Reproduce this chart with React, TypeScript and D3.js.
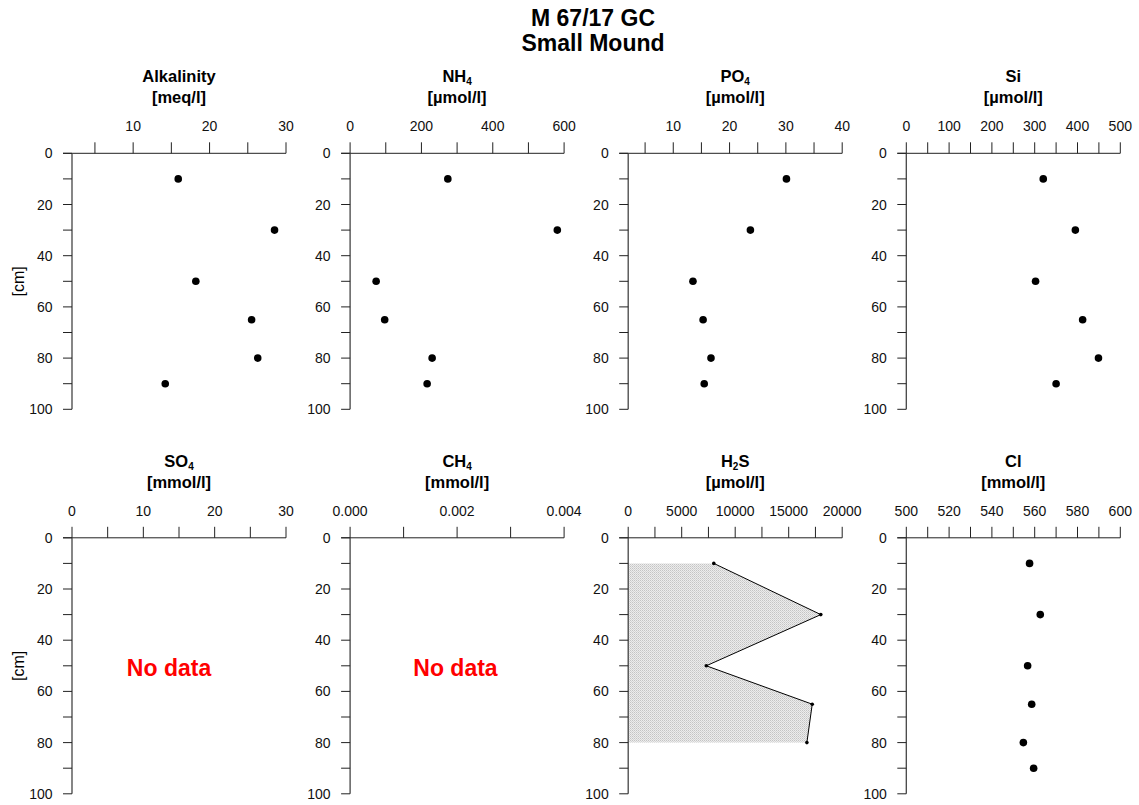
import React from "react";
import * as d3 from "d3";

const depths = [10, 30, 50, 65, 80, 90];
const alkalinity = [15.9, 28.5, 18.2, 25.5, 26.3, 14.2];
const nh4 = [274, 581, 73, 97, 230, 216];
const po4 = [30.1, 23.7, 13.5, 15.3, 16.7, 15.5];
const si = [320, 395, 302, 412, 449, 350];
const h2sDepths = [10, 30, 50, 65, 80];
const h2s = [8000, 18000, 7300, 17200, 16700];
const cl = [557.6, 562.6, 556.7, 558.6, 554.7, 559.5];

const depthTicks = [0, 10, 20, 30, 40, 50, 60, 70, 80, 90, 100];
const depthLabels = [0, 20, 40, 60, 80, 100];

type Panel = {
  name: string;
  sub?: string;
  rest?: string;
  unit: string;
  domain: [number, number];
  ticks: number[];
  labels: number[];
  fmt: (v: number) => string;
  values?: number[];
  kind: "dots" | "area" | "none";
};

const panels: Panel[] = [
  { name: "Alkalinity", unit: "[meq/l]", domain: [2, 30], ticks: [5, 10, 15, 20, 25, 30], labels: [10, 20, 30], fmt: String, values: alkalinity, kind: "dots" },
  { name: "NH", sub: "4", unit: "[µmol/l]", domain: [0, 600], ticks: [0, 100, 200, 300, 400, 500, 600], labels: [0, 200, 400, 600], fmt: String, values: nh4, kind: "dots" },
  { name: "PO", sub: "4", unit: "[µmol/l]", domain: [2, 40], ticks: [5, 10, 15, 20, 25, 30, 35, 40], labels: [10, 20, 30, 40], fmt: String, values: po4, kind: "dots" },
  { name: "Si", unit: "[µmol/l]", domain: [0, 500], ticks: [0, 50, 100, 150, 200, 250, 300, 350, 400, 450, 500], labels: [0, 100, 200, 300, 400, 500], fmt: String, values: si, kind: "dots" },
  { name: "SO", sub: "4", unit: "[mmol/l]", domain: [0, 30], ticks: [0, 5, 10, 15, 20, 25, 30], labels: [0, 10, 20, 30], fmt: String, kind: "none" },
  { name: "CH", sub: "4", unit: "[mmol/l]", domain: [0, 0.004], ticks: [0, 0.001, 0.002, 0.003, 0.004], labels: [0, 0.002, 0.004], fmt: (v) => v.toFixed(3), kind: "none" },
  { name: "H", sub: "2", rest: "S", unit: "[µmol/l]", domain: [0, 20000], ticks: [0, 2500, 5000, 7500, 10000, 12500, 15000, 17500, 20000], labels: [0, 5000, 10000, 15000, 20000], fmt: String, values: h2s, kind: "area" },
  { name: "Cl", unit: "[mmol/l]", domain: [500, 600], ticks: [500, 510, 520, 530, 540, 550, 560, 570, 580, 590, 600], labels: [500, 520, 540, 560, 580, 600], fmt: String, values: cl, kind: "dots" },
];

const noDataX = [0, 0, 0, 0, 13.6, 0.00197, 0, 0];

const FONT = "Arial, 'Liberation Sans', sans-serif";

function PanelView({ p, idx }: { p: Panel; idx: number }) {
  const col = idx % 4;
  const row = Math.floor(idx / 4);
  const left = 72 + col * 278.1;
  const top = 153.3 + row * 384.5;
  const w = 214;
  const h = 256;
  const x = d3.scaleLinear().domain(p.domain).range([left, left + w]);
  const y = d3.scaleLinear().domain([0, 100]).range([top, top + h]);
  const cx = left + w / 2;
  const axisColor = "#222";

  let marks: React.ReactNode = null;
  if (p.kind === "dots" && p.values) {
    marks = p.values.map((v, i) => (
      <circle key={i} cx={x(v)} cy={y(depths[i])} r={3.8} fill="#000" />
    ));
  } else if (p.kind === "area" && p.values) {
    const pts = p.values.map((v, i) => [v, h2sDepths[i]] as [number, number]);
    const area = d3
      .area<[number, number]>()
      .x0(() => x(0))
      .x1((d) => x(d[0]))
      .y((d) => y(d[1]));
    const line = d3
      .line<[number, number]>()
      .x((d) => x(d[0]))
      .y((d) => y(d[1]));
    marks = (
      <g>
        <path d={area(pts) || ""} fill="url(#stipple)" stroke="none" />
        <path d={line(pts) || ""} fill="none" stroke="#000" strokeWidth={1} />
        {pts.map((d, i) => (
          <circle key={i} cx={x(d[0])} cy={y(d[1])} r={1.8} fill="#000" />
        ))}
      </g>
    );
  } else if (p.kind === "none") {
    marks = (
      <text
        x={x(noDataX[idx])}
        y={y(51)}
        textAnchor="middle"
        dominantBaseline="central"
        fill="#ff0000"
        fontWeight="bold"
        fontSize={23}
      >
        No data
      </text>
    );
  }

  return (
    <g fontFamily={FONT}>
      <text x={cx} y={top - 71} textAnchor="middle" fontWeight="bold" fontSize={16.5}>
        {p.name}
        {p.sub ? (
          <tspan fontSize={10} dy={3}>
            {p.sub}
          </tspan>
        ) : null}
        {p.rest ? (
          <tspan dy={-3}>{p.rest}</tspan>
        ) : null}
      </text>
      <text x={cx} y={top - 50} textAnchor="middle" fontWeight="bold" fontSize={16.5}>
        {p.unit}
      </text>
      {marks}
      <line x1={left - 9} x2={left + w} y1={top} y2={top} stroke={axisColor} strokeWidth={1} />
      <line x1={left} x2={left} y1={top} y2={top + h} stroke="#444" strokeWidth={1.3} />
      {p.ticks.map((t) => (
        <line key={"xt" + t} x1={x(t)} x2={x(t)} y1={top} y2={top - 11} stroke={axisColor} strokeWidth={1} />
      ))}
      {p.labels.map((t) => (
        <text key={"xl" + t} x={x(t)} y={top - 22} textAnchor="middle" fontSize={14} fill="#111">
          {p.fmt(t)}
        </text>
      ))}
      {depthTicks.map((t) => (
        <line key={"yt" + t} x1={left - 9} x2={left} y1={y(t)} y2={y(t)} stroke={axisColor} strokeWidth={1} />
      ))}
      {depthLabels.map((t) => (
        <text key={"yl" + t} x={left - 19.5} y={y(t)} textAnchor="end" dominantBaseline="central" fontSize={14} fill="#111">
          {t}
        </text>
      ))}
      {col === 0 ? (
        <text
          transform={`translate(${left - 54},${y(50)}) rotate(-90)`}
          textAnchor="middle"
          dominantBaseline="central"
          fontSize={16}
        >
          [cm]
        </text>
      ) : null}
    </g>
  );
}

export default function App() {
  return (
    <svg
      width={1139}
      height={805}
      style={{ display: "block", position: "absolute", top: 0, left: 0, background: "#fff" }}
    >
      <defs>
        <pattern id="stipple" width={2} height={2} patternUnits="userSpaceOnUse">
          <rect width={2} height={2} fill="#ececec" />
          <rect width={1} height={1} fill="#c4c4c4" />
          <rect x={1} y={1} width={1} height={1} fill="#d4d4d4" />
        </pattern>
      </defs>
      <rect width={1139} height={805} fill="#fff" />
      <g fontFamily={FONT} fontWeight="bold" fontSize={23} textAnchor="middle">
        <text x={593} y={26}>M 67/17 GC</text>
        <text x={593} y={51}>Small Mound</text>
      </g>
      {panels.map((p, i) => (
        <PanelView key={i} p={p} idx={i} />
      ))}
    </svg>
  );
}
